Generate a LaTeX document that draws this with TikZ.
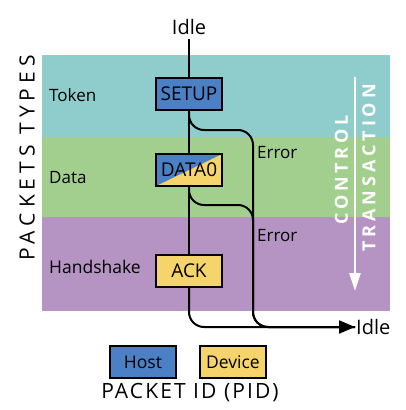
\documentclass[tikz,border=0pt]{standalone}
\usepackage{fontspec}
\setmainfont{Open Sans}
\usetikzlibrary{arrows.meta}
\definecolor{TokenTeal}{HTML}{8FCDCC}
\definecolor{DataGreen}{HTML}{A2CF8E}
\definecolor{ShakePurple}{HTML}{B594C4}
\definecolor{HostBlue}{HTML}{4B80C5}
\definecolor{DevYellow}{HTML}{F6D46C}

\begin{document}
\begin{tikzpicture}[x=1pt,y=-1pt,
  txt/.style={inner sep=1pt,font=\fontsize{17}{17}\selectfont},
  pid/.style={draw=black,line width=1.8pt,minimum width=66pt,minimum height=32pt,
    inner sep=0pt,font=\fontsize{19}{19}\selectfont},
  flow/.style={line width=2pt,rounded corners=15}]
\useasboundingbox (0,0) rectangle (406,410);

% packet type bands
\fill[TokenTeal] (42,55) rectangle (390,137);
\fill[DataGreen] (42,137) rectangle (390,217);
\fill[ShakePurple] (42,217) rectangle (390,311);

\node[txt,anchor=west] (token) at (48,95) {Token};
\node[txt,anchor=west] (data) at (48,178) {Data};
\node[txt,anchor=west,font=\fontsize{17.5}{17.5}\selectfont] (hand) at (48,267) {Handshake};
\node[rotate=90,font=\fontsize{21}{21}\selectfont\addfontfeature{LetterSpace=24}] (types) at (27,158) {PACKETS\ TYPES};

% control transaction
\draw[white,line width=2.5pt,-{Triangle[length=18pt,width=11pt]}] (355,77) -- (355,291);
\node[rotate=90,white,font=\fontsize{18}{18}\selectfont\bfseries\addfontfeature{LetterSpace=21}] (control) at (341.5,170) {CONTROL};
\node[rotate=90,white,font=\fontsize{18}{18}\selectfont\bfseries\addfontfeature{LetterSpace=22}] (trans) at (369,168) {TRANSACTION};

% packets
\node[txt,inner sep=4pt,font=\fontsize{20}{20}\selectfont] (idletop) at (189,27) {Idle};
\node[pid,fill=HostBlue] (setup) at (189,94) {SETUP};
\node[pid,fill=DevYellow,path picture={
  \fill[HostBlue] (path picture bounding box.north west) -- (path picture bounding box.north east)
    -- (path picture bounding box.south west) -- cycle;}] (data0) at (189,170) {DATA0};
\node[pid,fill=DevYellow] (ack) at (189,271) {ACK};
\node[txt,anchor=west,font=\fontsize{20}{20}\selectfont] (idleend) at (355,327) {Idle};

\coordinate (err1) at (189,130);
\coordinate (err2) at (189,205);
\coordinate (bend) at (189,327);

\draw[line width=2pt] (idletop) -- (setup);
\draw[line width=2pt] (setup) -- (data0);
\draw[line width=2pt] (data0) -- (ack);
\draw[flow] (setup.south) -- (err1) -- (253,130) -- (253,327) -- (idleend.west);
\draw[flow] (data0.south) -- (err2) -- (253,205) -- (253,327) -- (idleend.west);
\draw[flow,-{Triangle[length=16pt,width=13pt]}] (ack.south) -- (bend) -- (idleend.west);

\node[txt,anchor=west] (error1) at (256,153) {Error};
\node[txt,anchor=west] (error2) at (256,236) {Error};

% legend
\node[pid,fill=HostBlue,font=\fontsize{17.5}{17.5}\selectfont] (host) at (143,362) {Host};
\node[pid,fill=DevYellow,font=\fontsize{17.5}{17.5}\selectfont] (device) at (233,362) {Device};
\node[font=\fontsize{21}{21}\selectfont\addfontfeature{LetterSpace=10}] (pidlabel) at (190,393) {PACKET ID (PID)};

\end{tikzpicture}
\end{document}
